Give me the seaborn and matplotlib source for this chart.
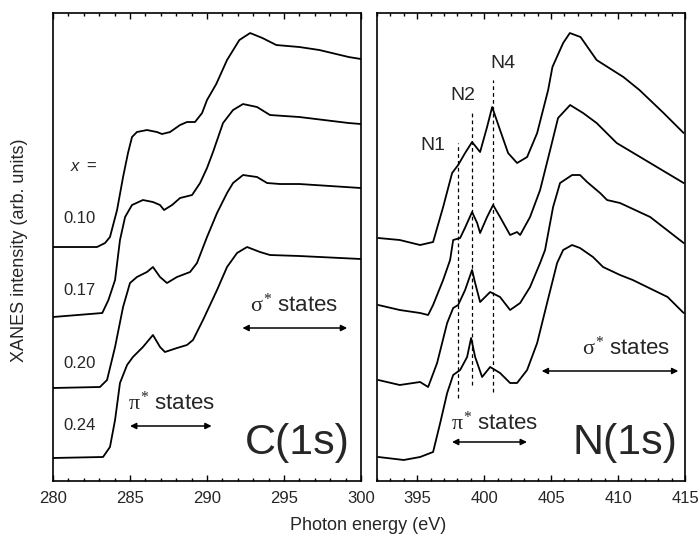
import numpy as np
import pandas as pd
import matplotlib
matplotlib.use("Agg")
import matplotlib.pyplot as plt
import seaborn as sns
from matplotlib.ticker import MultipleLocator

sns.set_style("ticks")
plt.rcParams['font.family'] = ['Liberation Sans', 'DejaVu Sans']
plt.rcParams['mathtext.fontset'] = 'custom'
plt.rcParams['mathtext.rm'] = 'Liberation Serif'
plt.rcParams['mathtext.it'] = 'Liberation Serif'

# C(1s) spectra, offset stack (x = 0.10, 0.17, 0.20, 0.24)
c_x010 = [280, 282.86, 283.38, 283.70, 284.16, 284.55, 284.87, 285.13, 285.45, 286.10, 286.75, 287.08,
          287.60, 288.25, 288.70, 289.22, 289.68, 290.0, 290.6, 291.3, 292.1, 292.8, 293.6, 294.5,
          296.0, 297.3, 299.2, 300]
c_y010 = [234, 234, 238, 244, 271, 304, 328, 344, 349, 351, 349, 347,
          349, 356, 359, 359, 368, 381, 397, 421, 441, 448, 443, 436,
          434, 431, 424, 422]
c_x017 = [280, 283.2, 283.6, 284.03, 284.35, 284.68, 285.13, 285.84, 286.49, 286.95, 287.21, 287.73,
          288.25, 289.03, 289.55, 290.0, 290.39, 291.04, 291.69, 292.34, 293.25, 294.09, 296.0, 299.2, 300]
c_y017 = [164, 168, 181, 201, 241, 264, 276, 281, 279, 276, 271, 276,
          283, 286, 298, 313, 329, 358, 371, 377, 374, 366, 364, 358, 357]
c_x020 = [280, 283.05, 283.51, 284.03, 284.55, 285.0, 285.45, 286.10, 286.49, 286.95, 287.40, 288.05,
          288.90, 289.35, 290.0, 290.65, 291.30, 291.69, 292.34, 293.25, 293.90, 294.74, 296, 300]
c_y020 = [93, 94, 101, 134, 174, 198, 204, 209, 214, 204, 198, 204,
          209, 218, 244, 268, 288, 298, 306, 304, 298, 297, 297, 293]
c_x024 = [280, 283.25, 283.70, 284.03, 284.35, 284.81, 285.19, 285.84, 286.49, 286.95, 287.27, 288.05,
          288.70, 289.09, 289.74, 290.65, 291.30, 291.95, 292.60, 293.44, 294.09, 296, 300]
c_y024 = [23, 24, 34, 61, 98, 116, 124, 134, 146, 134, 129, 133,
          136, 141, 161, 191, 214, 228, 234, 229, 226, 225, 222]

# N(1s) spectra
n_x1 = [392.1, 393.7, 395.22, 396.19, 396.94, 397.61, 398.06, 398.58, 399.10, 399.70, 400.22, 400.60,
        401.19, 401.79, 402.46, 403.21, 403.96, 404.78, 405.1, 405.9, 406.4, 407.2, 408.4, 410.4,
        411.6, 413.4, 414.9]
n_y1 = [243, 241, 236, 239, 274, 308, 316, 328, 339, 329, 354, 374,
        351, 328, 318, 324, 348, 391, 414, 438, 448, 444, 421, 404,
        391, 368, 348]
n_x2 = [392.1, 393.7, 395.22, 395.82, 396.19, 396.94, 397.46, 397.69, 398.21, 398.6, 399.10, 399.48,
        399.70, 400.22, 400.67, 401.19, 401.94, 402.46, 402.69, 403.43, 404.18, 404.93, 405.52, 406.42,
        407.39, 408.4, 409.9, 412.4, 414.9]
n_y2 = [176, 171, 168, 166, 176, 201, 221, 241, 243, 254, 269, 258,
        248, 264, 276, 264, 246, 249, 246, 264, 291, 331, 363, 376,
        368, 358, 338, 318, 298]
n_x3 = [392.1, 393.7, 395.22, 395.82, 396.49, 397.24, 397.69, 398.06, 398.58, 399.10, 399.33, 399.70,
        400.45, 401.19, 401.94, 402.69, 403.43, 404.18, 404.55, 405.15, 405.67, 406.57, 407.16, 407.69,
        408.66, 409.18, 410.15, 412.4, 414.9]
n_y3 = [101, 96, 99, 94, 118, 158, 173, 176, 191, 211, 198, 179,
        189, 184, 171, 178, 194, 218, 231, 274, 298, 306, 306, 299,
        288, 281, 278, 264, 238]
n_x4 = [392.1, 394.0, 395.22, 396.19, 396.72, 397.24, 397.69, 398.21, 398.73, 399.03, 399.33, 399.85,
        400.45, 401.19, 401.94, 402.46, 403.21, 403.96, 404.70, 405.45, 405.90, 406.57, 407.16, 408.13,
        408.88, 410.15, 411.1, 413.7, 414.9]
n_y4 = [24, 21, 24, 29, 58, 88, 106, 111, 124, 143, 124, 104,
        114, 108, 98, 98, 111, 138, 178, 218, 231, 236, 233, 224,
        214, 206, 201, 184, 168]

x_labels = ["0.10", "0.17", "0.20", "0.24"]
label_y = [263, 191, 118, 55]
peak_names = ["N1", "N2", "N4"]
peak_pos = [398.05, 399.1, 400.65]

def make_df(xs, ys, names):
    rows = []
    for xx, yy, nm in zip(xs, ys, names):
        rows.append(pd.DataFrame({"E": xx, "I": yy, "s": nm}))
    return pd.concat(rows, ignore_index=True)

df_c = make_df([c_x010, c_x017, c_x020, c_x024], [c_y010, c_y017, c_y020, c_y024], x_labels)
df_n = make_df([n_x1, n_x2, n_x3, n_x4], [n_y1, n_y2, n_y3, n_y4], x_labels)

fig = plt.figure(figsize=(6.99, 5.43), dpi=100)
ax1 = fig.add_axes([0.0758, 0.1142, 0.4407, 0.8618])
ax2 = fig.add_axes([0.5393, 0.1142, 0.4407, 0.8618])

for ax, df in [(ax1, df_c), (ax2, df_n)]:
    for nm in x_labels:
        sns.lineplot(data=df[df.s == nm], x="E", y="I", ax=ax, color="black",
                     lw=1.3, sort=False, estimator=None)
    ax.set_ylim(0, 468)
    ax.set_yticks([])
    ax.set_xlabel("")
    ax.set_ylabel("")
    ax.xaxis.set_major_locator(MultipleLocator(5))
    ax.xaxis.set_minor_locator(MultipleLocator(1))
    ax.tick_params(axis="x", which="both", direction="in", top=True, bottom=True,
                   labelsize=12, pad=7, color="black")
    ax.tick_params(axis="x", which="major", length=4.5, width=1)
    ax.tick_params(axis="x", which="minor", length=2.5, width=1)
    for sp in ax.spines.values():
        sp.set_linewidth(1.2)
        sp.set_visible(True)
        sp.set_color("black")

ax1.set_xlim(280, 300)
ax2.set_xlim(392, 415)
ax2.set_xticks([395, 400, 405, 410, 415])

arrow = dict(arrowstyle="<|-|>", color="black", lw=1.1, mutation_scale=9, shrinkA=0, shrinkB=0)

# left panel annotations
ax1.text(281.43, 315, "x", style="italic", ha="center", va="center", fontsize=12)
ax1.text(282.5, 315, "=", ha="center", va="center", fontsize=12)
for lab, yy in zip(x_labels, label_y):
    ax1.text(281.7, yy, lab, ha="center", va="center", fontsize=12)
ax1.text(295.65, 176, r"$\sigma^{*}$ states", ha="center", va="center", fontsize=16)
ax1.annotate("", xy=(292.3, 153), xytext=(299.1, 153), arrowprops=arrow)
ax1.text(287.7, 78, r"$\pi^{*}$ states", ha="center", va="center", fontsize=16)
ax1.annotate("", xy=(285.0, 55), xytext=(290.3, 55), arrowprops=arrow)
ax1.text(295.85, 38, "C(1s)", ha="center", va="center", fontsize=31)

# right panel annotations
dash_lo = [83, 96, 89]
dash_hi = [338, 369, 401]
for p, lo, hi in zip(peak_pos, dash_lo, dash_hi):
    ax2.plot([p, p], [lo, hi], color="black", lw=0.9, ls=(0, (3, 2.5)))
ax2.text(396.2, 336, "N1", ha="center", va="center", fontsize=14)
ax2.text(398.4, 386, "N2", ha="center", va="center", fontsize=14)
ax2.text(401.4, 418, "N4", ha="center", va="center", fontsize=14)
ax2.text(410.6, 133, r"$\sigma^{*}$ states", ha="center", va="center", fontsize=16)
ax2.annotate("", xy=(404.3, 110), xytext=(414.5, 110), arrowprops=arrow)
ax2.text(400.8, 58, r"$\pi^{*}$ states", ha="center", va="center", fontsize=16)
ax2.annotate("", xy=(397.6, 39), xytext=(403.2, 39), arrowprops=arrow)
ax2.text(410.5, 38, "N(1s)", ha="center", va="center", fontsize=31)

fig.text(0.028, 0.54, "XANES intensity (arb. units)", rotation=90, ha="center", va="center", fontsize=13)
fig.text(0.527, 0.033, "Photon energy (eV)", ha="center", va="center", fontsize=13)

fig.savefig("out.png", dpi=100)
